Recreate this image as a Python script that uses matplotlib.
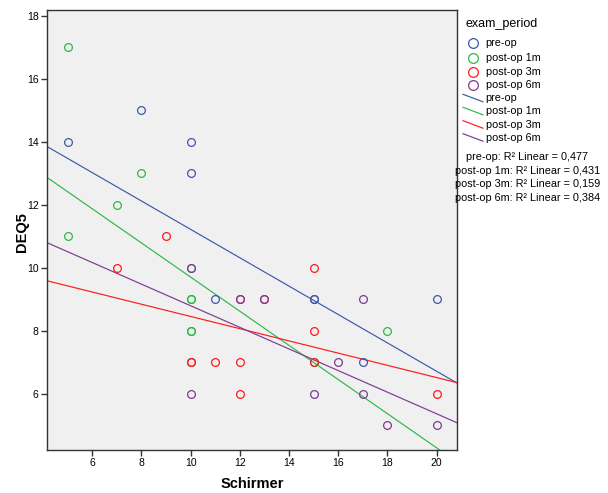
import matplotlib
matplotlib.use('Agg')
import matplotlib.pyplot as plt
from matplotlib.lines import Line2D

plt.rcParams['font.family'] = ['Liberation Sans', 'DejaVu Sans']

# ---- data ----
groups = ['pre-op', 'post-op 1m', 'post-op 3m', 'post-op 6m']
colors = ['#3E58AC', '#2EB848', '#FF1A1A', '#7E3A90']

pre_x = [5, 8, 10, 10, 11, 15, 15, 17, 20]
pre_y = [14, 15, 14, 13, 9, 9, 9, 7, 9]
m1_x = [5, 5, 7, 8, 10, 10, 10, 10, 10, 15, 18]
m1_y = [17, 11, 12, 13, 10, 9, 9, 8, 8, 7, 8]
m3_x = [7, 9, 10, 10, 11, 12, 12, 12, 13, 15, 15, 15, 20]
m3_y = [10, 11, 7, 7, 7, 9, 7, 6, 9, 10, 8, 7, 6]
m6_x = [10, 10, 12, 13, 15, 16, 17, 17, 18, 20]
m6_y = [10, 6, 9, 9, 6, 7, 9, 6, 5, 5]

# fit lines (intercept, slope)
fit_intercept = [15.73, 15.13, 10.40, 12.23]
fit_slope = [-0.4505, -0.542, -0.194, -0.343]
r2 = [0.477, 0.431, 0.159, 0.384]

x_ticks = [6, 8, 10, 12, 14, 16, 18, 20]
y_ticks = [6, 8, 10, 12, 14, 16, 18]
xlim = (4.16, 20.83)
ylim = (4.22, 18.19)

W, H = 608, 493
fig = plt.figure(figsize=(W / 100, H / 100), dpi=100)
fig.patch.set_facecolor('white')

def px(x, y):
    return x / W, 1 - y / H

l, r, t, b = 47, 457, 10, 450
ax = fig.add_axes([l / W, 1 - b / H, (r - l) / W, (b - t) / H])
ax.set_facecolor('#F0F0F0')
ax.set_xlim(*xlim)
ax.set_ylim(*ylim)

xs_all = [pre_x, m1_x, m3_x, m6_x]
ys_all = [pre_y, m1_y, m3_y, m6_y]
for gx, gy, c in zip(xs_all, ys_all, colors):
    ax.plot(gx, gy, linestyle='none', marker='o', markersize=5.6,
            markerfacecolor='none', markeredgecolor=c, markeredgewidth=0.9, zorder=3)

for a, s, c in zip(fit_intercept, fit_slope, colors):
    xx = [xlim[0], xlim[1]]
    yy = [a + s * xlim[0], a + s * xlim[1]]
    ax.plot(xx, yy, color=c, linewidth=0.85, zorder=2, clip_on=True)

ax.set_xticks(x_ticks)
ax.set_yticks(y_ticks)
ax.set_xticklabels([str(v) for v in x_ticks])
ax.set_yticklabels([str(v) for v in y_ticks])
ax.tick_params(direction='out', length=4, width=1, labelsize=7.5, pad=2, color='#333333')
for sp in ax.spines.values():
    sp.set_color('#333333')
    sp.set_linewidth(1)

fig.text(*px(252, 484), 'Schirmer', fontsize=10.5, fontweight='bold', ha='center', va='center')
fig.text(*px(22, 232), 'DEQ5', fontsize=10.5, fontweight='bold', ha='center', va='center', rotation=90)

# ---- legend ----
fig.text(*px(465, 24), 'exam_period', fontsize=9, ha='left', va='center')
circ_y = [43.3, 57.7, 71.7, 85.3]
for g, c, yy in zip(groups, colors, circ_y):
    fig.add_artist(Line2D([472.7 / W], [1 - yy / H], marker='o', markersize=7,
                          markerfacecolor='none', markeredgecolor=c, markeredgewidth=0.9,
                          linestyle='none', transform=fig.transFigure))
    fig.text(*px(485.7, yy), g, fontsize=7.8, ha='left', va='center')
line_y = [98.3, 111.3, 124.7, 137.7]
for g, c, yy in zip(groups, colors, line_y):
    x0, y0 = px(463, yy - 4)
    x1, y1 = px(483, yy + 3.5)
    fig.add_artist(Line2D([x0, x1], [y0, y1], color=c, linewidth=0.85,
                          transform=fig.transFigure))
    fig.text(*px(485.7, yy), g, fontsize=7.8, ha='left', va='center')

r2_y = [157.5, 171, 184.5, 198]
for g, v, yy in zip(groups, r2, r2_y):
    s = f'{g}: R\u00b2 Linear = ' + f'{v:.3f}'.replace('.', ',')
    fig.text(*px(527.5, yy), s, fontsize=7.8, ha='center', va='center')

fig.savefig('out.png', dpi=100)
